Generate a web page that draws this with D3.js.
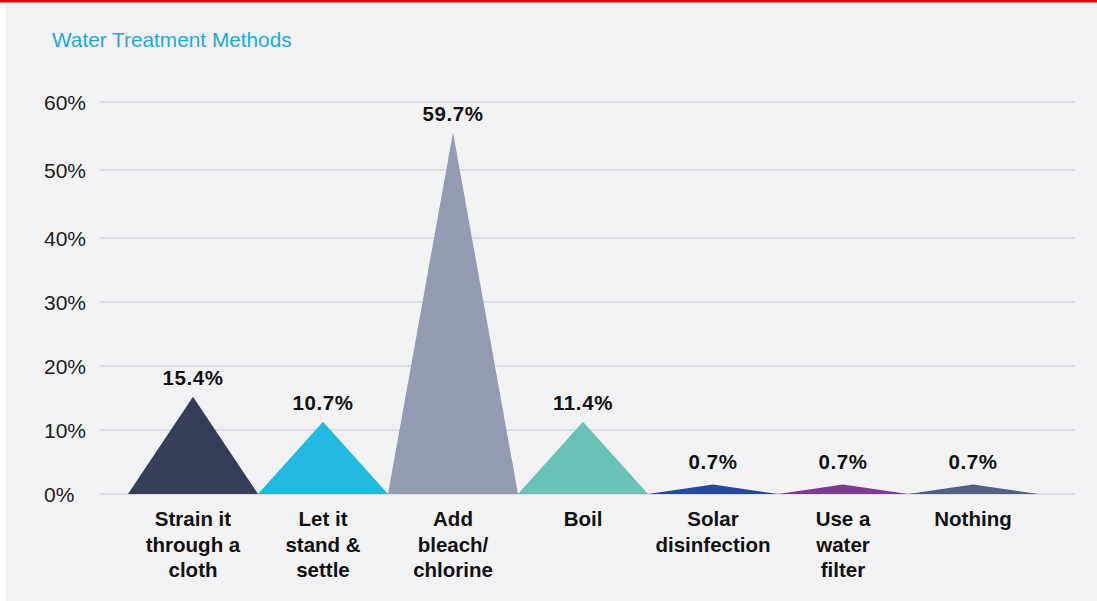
<!DOCTYPE html>
<html>
<head>
<meta charset="utf-8">
<script src="https://cdn.jsdelivr.net/npm/d3@7/dist/d3.min.js"></script>
<style>
  html, body { margin: 0; padding: 0; background: #ffffff; }
  svg { display: block; }
</style>
</head>
<body>
<svg id="chart" width="1097" height="601"></svg>
<script>
// ---- data ----
const categories = ["Strain it through a cloth", "Let it stand & settle", "Add bleach/ chlorine", "Boil", "Solar disinfection", "Use a water filter", "Nothing"];
const categoryLines = [["Strain it", "through a", "cloth"], ["Let it", "stand &", "settle"], ["Add", "bleach/", "chlorine"], ["Boil"], ["Solar", "disinfection"], ["Use a", "water", "filter"], ["Nothing"]];
// labelled values (%)
const values = [15.4, 10.7, 59.7, 11.4, 0.7, 0.7, 0.7];
// peak heights of the drawn triangles as they appear in the picture (%)
const peakHeights = [15.2, 11.3, 55.5, 11.3, 1.5, 1.5, 1.5];
const colors = ["#363d56", "#23bae2", "#949cb2", "#6ac2b7", "#234a9c", "#7c3c92", "#556080"];
const yTicks = [0, 10, 20, 30, 40, 50, 60];
const title = "Water Treatment Methods";

// ---- layout ----
const svg = d3.select("#chart");
const W = 1097, H = 601;
svg.append("rect").attr("x", 0).attr("y", 0).attr("width", W).attr("height", H).attr("fill", "#ffffff");
svg.append("rect").attr("x", 6).attr("y", 0).attr("width", W - 6).attr("height", H).attr("fill", "#f3f3f6");
svg.append("rect").attr("x", 0).attr("y", 0).attr("width", W).attr("height", 2.5).attr("fill", "#e30613");

const font = "'Helvetica Neue', Arial, 'Liberation Sans', sans-serif";

svg.append("text").attr("x", 52).attr("y", 47).text(title)
  .attr("font-family", font).attr("font-size", 20.8).attr("fill", "#1fa9e1");

const y = d3.scaleLinear().domain(yTicks).range([494, 430, 366, 302, 238, 170, 102]);
const x = d3.scaleBand().domain(categories).range([128, 1038]).padding(0);

// grid
const grid = svg.append("g");
grid.selectAll("line").data(yTicks).join("line")
  .attr("x1", 100).attr("x2", 1075)
  .attr("y1", d => y(d)).attr("y2", d => y(d))
  .attr("stroke", "#d4d4de").attr("stroke-width", 1.4);

// y axis labels
svg.append("g").selectAll("text").data(yTicks).join("text")
  .attr("x", 44).attr("y", d => y(d) + 7.5)
  .attr("font-family", font).attr("font-size", 21).attr("fill", "#222")
  .text(d => d + "%");

// triangles
svg.append("g").selectAll("path").data(categories).join("path")
  .attr("d", (c, i) => {
    const x0 = x(c), x1 = x0 + x.bandwidth(), xm = x0 + x.bandwidth() / 2;
    return `M${x0},${y(0)}L${xm},${y(peakHeights[i])}L${x1},${y(0)}Z`;
  })
  .attr("fill", (c, i) => colors[i]);

// value labels
svg.append("g").selectAll("text").data(categories).join("text")
  .attr("x", c => x(c) + x.bandwidth() / 2)
  .attr("y", (c, i) => y(peakHeights[i]) - (peakHeights[i] < 3 ? 15 : 12))
  .attr("text-anchor", "middle")
  .attr("font-family", font).attr("font-weight", "bold").attr("font-size", 20.5)
  .attr("letter-spacing", 0.6).attr("fill", "#111")
  .text((c, i) => values[i].toFixed(1) + "%");

// category labels
const cat = svg.append("g").selectAll("text").data(categories).join("text")
  .attr("x", c => x(c) + x.bandwidth() / 2)
  .attr("y", 526)
  .attr("text-anchor", "middle")
  .attr("font-family", font).attr("font-weight", "bold").attr("font-size", 20.5).attr("fill", "#111");
cat.each(function(c, i) {
  const t = d3.select(this);
  categoryLines[i].forEach((ln, j) => {
    t.append("tspan").attr("x", x(c) + x.bandwidth() / 2).attr("y", 526 + j * 25.5).text(ln);
  });
});
</script>
</body>
</html>
